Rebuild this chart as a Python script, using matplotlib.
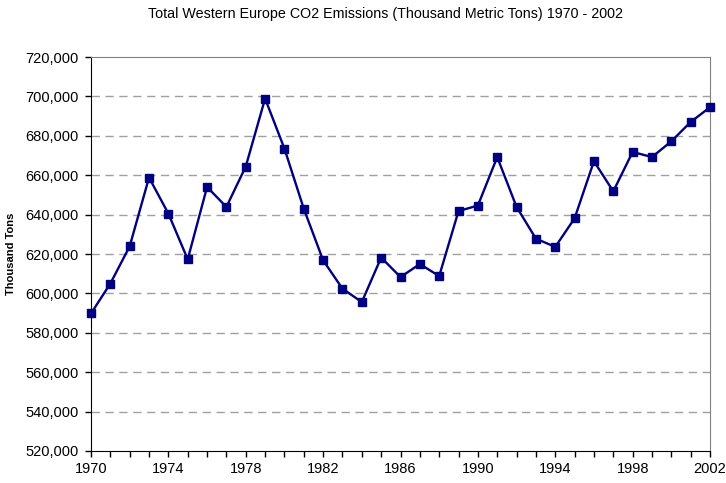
import numpy as np
import matplotlib.pyplot as plt
from matplotlib.ticker import FuncFormatter, MultipleLocator

plt.rcParams['font.family'] = ['Liberation Sans', 'DejaVu Sans']

years = list(range(1970, 2003))
emissions = [589800, 605000, 623900, 658800, 640500, 617300, 654000, 643900,
             664400, 698900, 673500, 643000, 616800, 602400, 595600, 618200,
             608300, 614900, 608800, 641800, 644600, 669200, 643900, 627800,
             623600, 638100, 667100, 651800, 671800, 669200, 677200, 687000,
             694500]
xticks = list(range(1970, 2003, 4))
yticks = list(range(520000, 720001, 20000))

fig = plt.figure(figsize=(7.26, 4.83), dpi=100)
ax = fig.add_axes([91/726, 1-451/483, (710-91)/726, (451-57)/483])

ax.plot(years, emissions, color='#000080', lw=1.7, marker='s',
        markersize=5.2, markerfacecolor='#000080', markeredgecolor='#000080',
        zorder=3, clip_on=False)

ax.set_xlim(1970, 2002)
ax.set_ylim(520000, 720000)
ax.set_xticks(xticks)
ax.xaxis.set_minor_locator(MultipleLocator(1))
ax.set_yticks(yticks)
ax.yaxis.set_major_formatter(FuncFormatter(lambda v, p: f'{int(v):,}'))

# dashed gridlines, skipping the top/bottom edges
for y in yticks[1:-1]:
    ax.axhline(y, color='#a0a0a0', lw=1, linestyle=(0, (6, 4)), zorder=1)

ax.tick_params(axis='both', which='both', direction='out', length=4,
               width=1, color='black', labelsize=10.5)
ax.tick_params(axis='x', pad=4)
ax.tick_params(axis='y', pad=5)

for s in ['top', 'right']:
    ax.spines[s].set_color('#808080')
for s in ['left', 'bottom']:
    ax.spines[s].set_color('black')

fig.text(11/726, 1-254/483, 'Thousand Tons', rotation=90, ha='center',
         va='center', fontsize=8, fontweight='bold')
fig.text(385/726, 1-14/483, 'Total Western Europe CO2 Emissions (Thousand Metric Tons) 1970 - 2002',
         ha='center', va='center', fontsize=10.3)

fig.savefig('out.png', dpi=100)
